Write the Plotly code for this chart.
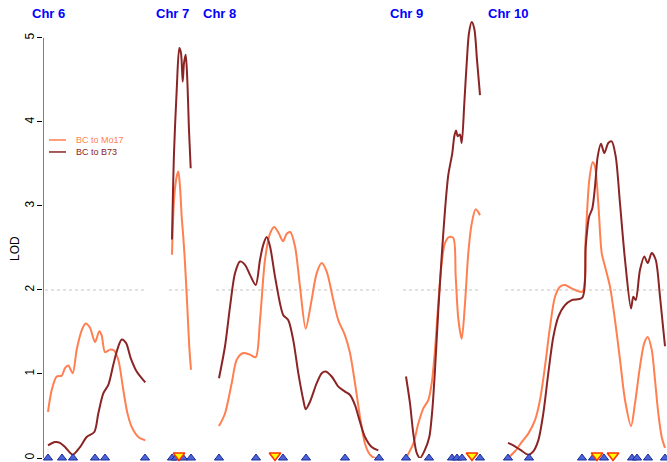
import plotly.graph_objects as go

# ---------------- data ----------------
chromosomes = ["6", "7", "8", "9", "10"]
chr_offset = {"6": 48, "7": 172, "8": 219, "9": 406, "10": 508}
chr_length = {"6": 97, "7": 19, "8": 160, "9": 74, "10": 157}

# BC to Mo17 (positions within chromosome, LOD)
mo17_pos = {
    "6": [0, 3.7, 8.7, 13.7, 17, 20.3, 24.7, 28.7, 33.7, 37.7, 42, 47, 51.3, 53.7, 57, 62, 66, 70.3, 75.3, 79.3, 83.7, 90.3, 97.3],
    "7": [0, 2, 4.7, 6.3, 8, 9.7, 11.3, 13, 15.3, 17.3, 19],
    "8": [0, 6, 12.7, 17.7, 24.3, 31, 36.7, 41, 46, 51, 55.3, 60, 64, 67.7, 71.3, 76, 81, 86.7, 92, 97.7, 102.7, 107.7, 114.3, 119.3, 126, 131, 136, 141, 146, 151, 156, 160],
    "9": [0, 7.3, 12.3, 17.3, 22.3, 25.7, 29, 32.3, 35.7, 39, 43, 47.3, 49.7, 52.3, 55.7, 59, 62.3, 65.7, 69.7, 74],
    "10": [0, 7, 13.7, 20.3, 27, 32, 37, 42, 47, 52, 57, 63.7, 74.3, 77.7, 81.3, 84.7, 87, 90.3, 93.7, 97, 102, 107, 112, 117, 123, 127, 132, 136.3, 139.7, 143.7, 147, 150.3, 153.7, 157],
}
mo17_lod = {
    "6": [0.55, 0.81, 0.97, 0.98, 1.07, 1.10, 1.01, 1.29, 1.52, 1.60, 1.55, 1.38, 1.51, 1.46, 1.26, 1.29, 1.28, 1.17, 0.81, 0.54, 0.37, 0.25, 0.21],
    "7": [2.42, 3.07, 3.35, 3.41, 3.23, 2.87, 2.63, 2.32, 1.80, 1.32, 1.05],
    "8": [0.38, 0.53, 0.89, 1.17, 1.25, 1.23, 1.20, 1.64, 2.36, 2.67, 2.75, 2.67, 2.58, 2.67, 2.69, 2.52, 2.04, 1.54, 1.84, 2.20, 2.32, 2.22, 1.88, 1.64, 1.46, 1.25, 0.89, 0.49, 0.17, 0.04, 0.0, 0.0],
    "9": [0.0, 0.17, 0.41, 0.59, 0.69, 0.89, 1.29, 1.84, 2.32, 2.56, 2.63, 2.62, 2.16, 1.66, 1.42, 1.84, 2.44, 2.79, 2.96, 2.89],
    "10": [0.0, 0.08, 0.19, 0.29, 0.45, 0.69, 1.09, 1.56, 1.92, 2.04, 2.06, 2.02, 1.98, 2.63, 3.31, 3.52, 3.47, 3.03, 2.44, 2.28, 2.04, 1.64, 1.17, 0.69, 0.38, 0.65, 1.09, 1.37, 1.44, 1.29, 0.93, 0.53, 0.25, 0.12],
}

# BC to B73
b73_pos = {
    "6": [0, 7, 12, 17, 24.7, 32, 38.7, 46.3, 50.3, 55.3, 60.3, 65.3, 69.3, 73.7, 78, 82.7, 88.7, 97.3],
    "7": [0, 2, 4.7, 7.3, 9, 10.7, 12, 13.7, 15.3, 17, 18.7],
    "8": [0, 6, 11, 16, 21, 26, 31, 36.7, 41, 44.3, 47.7, 51, 56, 61, 64.3, 69.3, 74.3, 79.3, 84.3, 86.7, 91, 97.7, 102.7, 106.7, 112.7, 119.3, 126, 131, 136, 141, 146, 152.7, 159.3],
    "9": [0, 4, 7.3, 10.7, 14, 19, 23.3, 26.3, 29, 32.3, 35.7, 39, 42.3, 46.3, 48.3, 50, 51.7, 54, 55.7, 58.3, 60.7, 63, 65.7, 68.3, 71, 74],
    "10": [0, 5.3, 12, 20.3, 25.3, 30.3, 35.3, 40.3, 45.3, 50.3, 57, 63.7, 74.3, 77.7, 81, 84.3, 87, 89.7, 93, 96.3, 100.3, 103.7, 107.7, 112, 117, 123, 125.3, 127.7, 132, 136.3, 139.7, 143.7, 147.7, 152, 157],
}
b73_lod = {
    "6": [0.15, 0.19, 0.18, 0.13, 0.04, 0.13, 0.25, 0.31, 0.53, 0.77, 0.87, 1.11, 1.29, 1.41, 1.37, 1.19, 1.03, 0.90],
    "7": [2.60, 3.63, 4.38, 4.88, 4.82, 4.48, 4.70, 4.80, 4.50, 3.90, 3.45],
    "8": [0.95, 1.33, 1.80, 2.20, 2.34, 2.30, 2.18, 2.06, 2.36, 2.54, 2.63, 2.52, 2.16, 1.84, 1.70, 1.64, 1.40, 1.01, 0.69, 0.58, 0.67, 0.89, 1.01, 1.03, 0.97, 0.85, 0.79, 0.75, 0.63, 0.43, 0.25, 0.13, 0.09],
    "9": [0.97, 0.65, 0.29, 0.06, 0.0, 0.10, 0.25, 0.57, 1.05, 1.76, 2.40, 2.95, 3.37, 3.63, 3.83, 3.90, 3.83, 3.85, 3.75, 4.22, 4.70, 5.06, 5.19, 5.11, 4.74, 4.32],
    "10": [0.18, 0.15, 0.10, 0.04, 0.08, 0.21, 0.53, 1.01, 1.44, 1.68, 1.82, 1.88, 1.91, 2.52, 2.87, 2.97, 3.23, 3.59, 3.74, 3.63, 3.75, 3.77, 3.59, 3.03, 2.36, 1.78, 1.92, 1.88, 2.24, 2.40, 2.32, 2.44, 2.36, 1.92, 1.33],
}

# genetic markers and QTL positions (within chromosome)
marker_pos = {
    "6": [0, 14, 25, 47, 57, 97],
    "7": [0, 4, 11, 19],
    "8": [0, 37, 64, 87, 126, 160],
    "9": [0, 23, 46, 51, 56, 74],
    "10": [0, 21, 74, 85, 96, 124, 129, 140, 157],
}
qtl_pos = {"7": [7], "8": [56], "9": [66], "10": [89, 105]}

threshold = 2.0
y_ticks = [0, 1, 2, 3, 4, 5]
series_names = ["BC to Mo17", "BC to B73"]

# ---------------- styling ----------------
C_MO17 = "#FF7F50"
C_B73 = "#8B2525"
FONT = "Liberation Sans, Arial, sans-serif"

fig = go.Figure()

for c in chromosomes:
    off = chr_offset[c]
    # threshold dotted line
    fig.add_trace(go.Scatter(
        x=[off - 3, off + chr_length[c]], y=[threshold, threshold], mode="lines",
        line=dict(color="#C4C4C4", width=1, dash="dot"), showlegend=False, hoverinfo="skip"))
    fig.add_trace(go.Scatter(
        x=[off + p for p in mo17_pos[c]], y=mo17_lod[c], mode="lines",
        line=dict(color=C_MO17, width=2, shape="spline", smoothing=0.8),
        name=series_names[0], showlegend=False, cliponaxis=False))
    fig.add_trace(go.Scatter(
        x=[off + p for p in b73_pos[c]], y=b73_lod[c], mode="lines",
        line=dict(color=C_B73, width=2, shape="spline", smoothing=0.8),
        name=series_names[1], showlegend=False, cliponaxis=False))
    fig.add_trace(go.Scatter(
        x=[off + p for p in marker_pos[c]], y=[0] * len(marker_pos[c]), mode="markers",
        marker=dict(symbol="triangle-up", size=8, color="#4A64D8",
                    line=dict(color="#1C2C9C", width=1)),
        showlegend=False, cliponaxis=False, hoverinfo="skip"))
    if c in qtl_pos:
        fig.add_trace(go.Scatter(
            x=[off + p for p in qtl_pos[c]], y=[0.03] * len(qtl_pos[c]), mode="markers",
            marker=dict(symbol="triangle-down", size=10, color="#FFFF00",
                        line=dict(color="#FF3300", width=1.5)),
            showlegend=False, cliponaxis=False, hoverinfo="skip"))
    fig.add_annotation(x=off, y=5.29, xref="x", yref="y", text="<b>Chr %s</b>" % c,
                       showarrow=False, xanchor="center", yanchor="middle",
                       font=dict(family=FONT, size=13, color="#0000FF"))

# left axis line (0 to 5 only, R style)
fig.add_shape(type="line", xref="x", yref="y", x0=43, x1=43, y0=0, y1=5,
              line=dict(color="black", width=1))

# legend drawn manually
leg_y = [3.786, 3.643]
for name, col, yy in zip(series_names, [C_MO17, C_B73], leg_y):
    fig.add_shape(type="line", xref="x", yref="y", x0=49, x1=66, y0=yy, y1=yy,
                  line=dict(color=col, width=1.5))
    fig.add_annotation(x=74, y=yy, xref="x", yref="y", text=name, showarrow=False,
                       xanchor="left", yanchor="middle",
                       font=dict(family=FONT, size=9, color=col))

# y-axis title
fig.add_annotation(x=-0.045, y=2.5, xref="paper", yref="y", text="LOD", textangle=-90,
                   showarrow=False, xanchor="center", yanchor="middle",
                   font=dict(family=FONT, size=12, color="black"))

fig.update_layout(
    width=667, height=462,
    margin=dict(l=43, r=0, t=0, b=4),
    paper_bgcolor="white", plot_bgcolor="white",
    showlegend=False,
    xaxis=dict(range=[43, 667], visible=False, fixedrange=True),
    yaxis=dict(range=[0, 5.452], tickvals=y_ticks, ticks="outside", ticklen=5,
               tickcolor="black", tickwidth=1, showline=False, showgrid=False,
               zeroline=False, tickangle=-90, fixedrange=True, ticklabelstandoff=-2,
               tickfont=dict(family=FONT, size=12, color="black")),
)

fig.write_html("out.html", config={"displayModeBar": False},
               post_script="document.body.style.margin='0';document.body.style.overflow='hidden';")
